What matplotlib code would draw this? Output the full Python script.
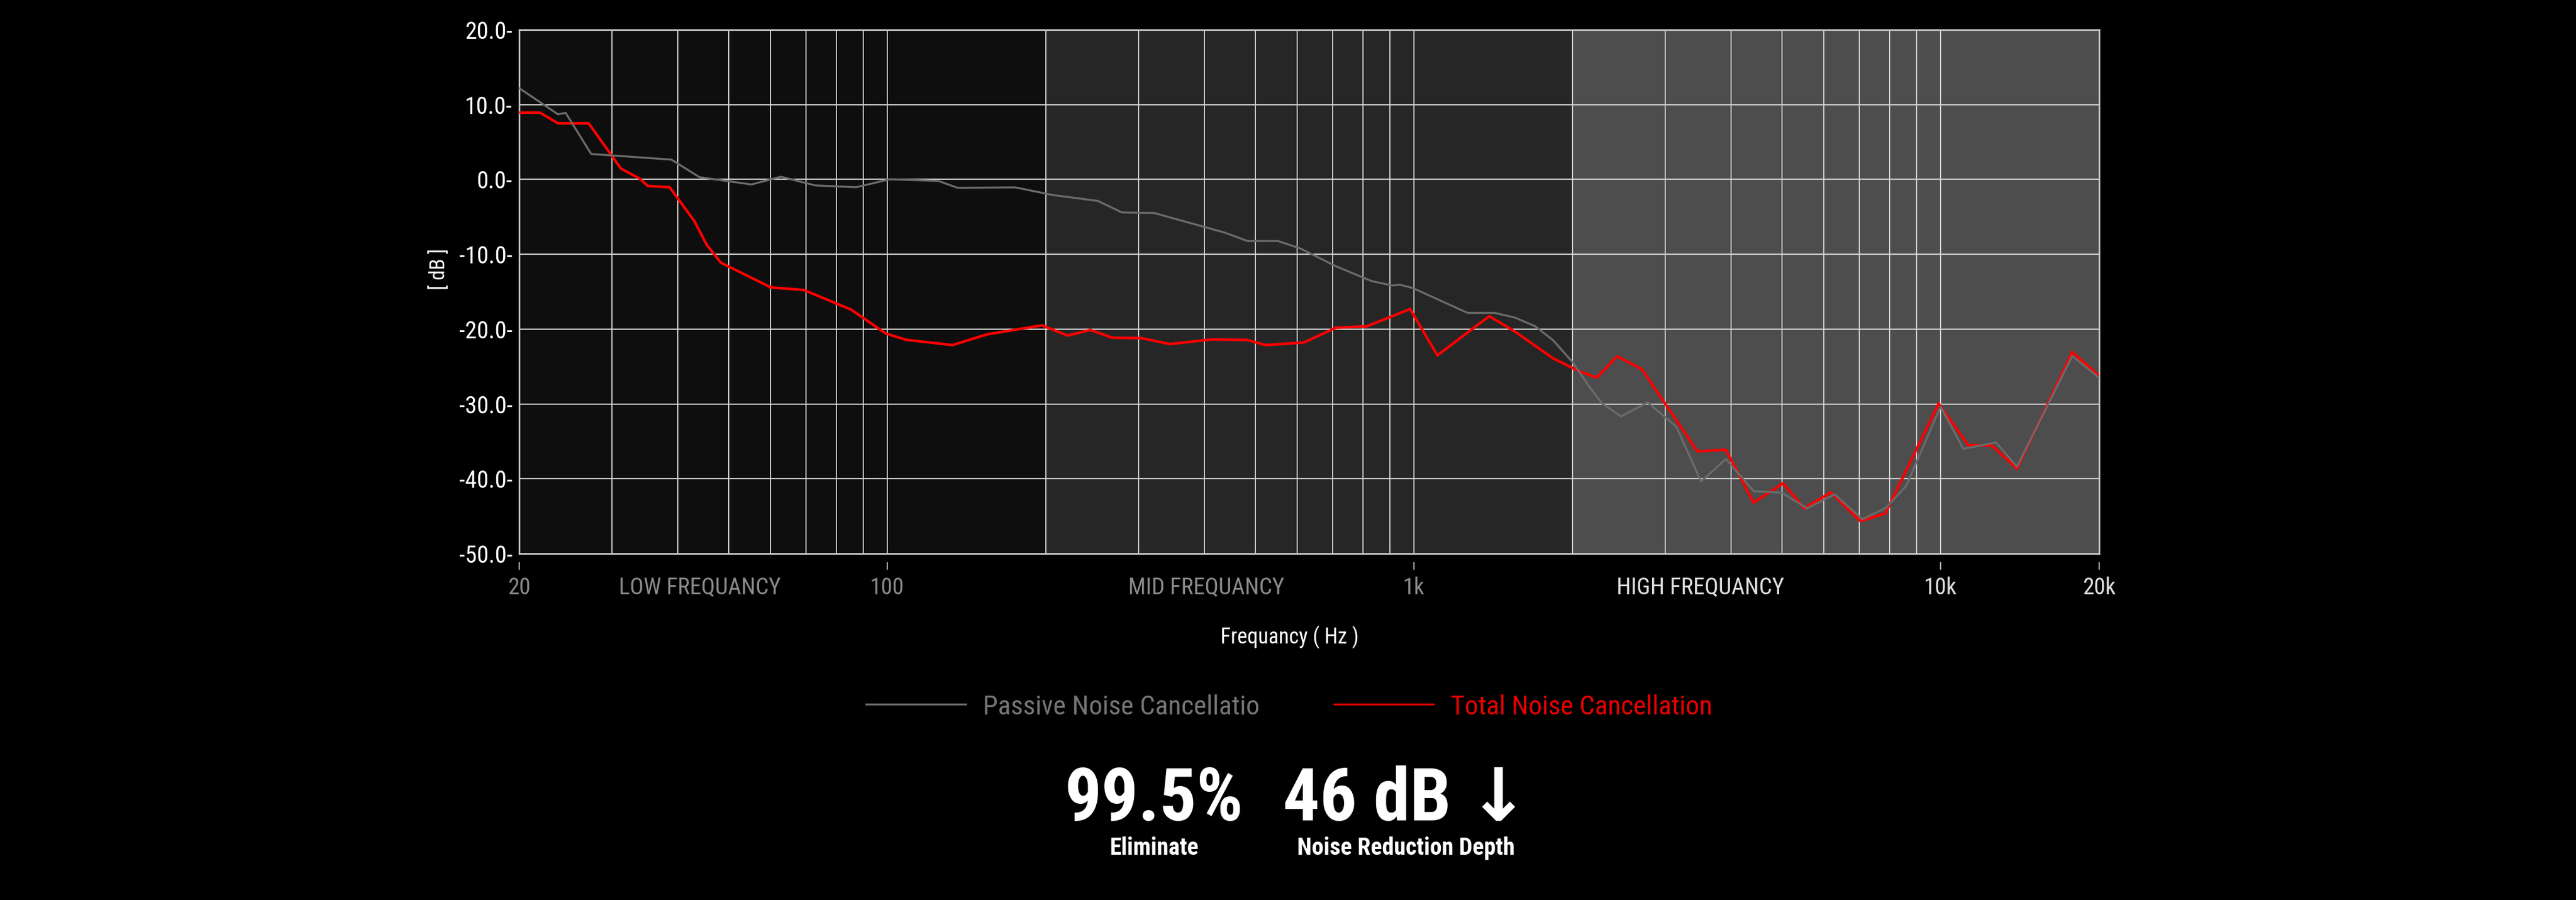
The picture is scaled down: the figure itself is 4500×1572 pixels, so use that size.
import matplotlib
matplotlib.use("Agg")
import matplotlib.pyplot as plt
from matplotlib import font_manager as fm
from matplotlib.lines import Line2D
from matplotlib.ticker import FixedLocator, NullLocator

# passive noise cancellation (grey curve)
passive_freq = [20, 23.7, 24.5, 27.4, 38.9, 44, 55.2, 62.8, 73, 87.3,
                101, 125, 136, 175, 206, 251, 279, 321, 437, 483,
                552, 608, 711, 832, 910, 940, 994, 1264, 1422, 1554,
                1700, 1838, 2000, 2151, 2274, 2473, 2778, 3148, 3508, 3910,
                4416, 5000, 5576, 6292, 7102, 7880, 8606, 10000, 11042, 12736,
                13962, 17784, 20000]
passive_db = [12.2, 8.7, 8.9, 3.4, 2.65, 0.3, -0.67, 0.36, -0.8, -1.04,
              0.02, -0.2, -1.12, -1.06, -2.08, -2.87, -4.41, -4.48, -7.1, -8.23,
              -8.23, -9.22, -11.6, -13.6, -14.17, -14.07, -14.5, -17.83, -17.83, -18.45,
              -19.63, -21.5, -24.4, -27.67, -29.89, -31.66, -29.78, -33.03, -40.35, -37.37,
              -41.64, -41.87, -43.94, -42.08, -45.4, -43.87, -40.93, -30.35, -36.0, -35.14,
              -38.38, -23.59, -26.52]

# total noise cancellation (red curve)
total_freq = [20, 21.9, 23.7, 27.1, 31.2, 33.8, 35.1, 38.6, 43.0, 45.4,
              48.3, 60.1, 69.4, 85.4, 99.3, 108.6, 133, 154.6, 196.6, 220,
              243, 267, 304, 344, 413, 483, 522, 618, 711, 813,
              910, 983, 1108, 1390, 1554, 1838, 2057, 2224, 2432, 2710,
              3452, 3910, 4416, 5024, 5508, 6188, 7044, 7853, 9916, 11282,
              12522, 13962, 17784, 20000]
total_db = [8.93, 8.93, 7.5, 7.5, 1.45, 0.15, -0.87, -1.04, -5.55, -8.73,
            -11.12, -14.43, -14.77, -17.4, -20.58, -21.43, -22.13, -20.7, -19.5, -20.86,
            -20.11, -21.14, -21.21, -22.0, -21.38, -21.45, -22.13, -21.79, -19.81, -19.63,
            -18.27, -17.31, -23.5, -18.27, -20.32, -23.91, -25.62, -26.47, -23.63, -25.37,
            -36.33, -36.13, -43.17, -40.6, -43.94, -41.82, -45.65, -44.63, -29.96, -35.5,
            -35.57, -38.63, -23.08, -26.26]

band_edges = [20, 200, 2000, 20000]
band_names = ["LOW FREQUANCY", "MID FREQUANCY", "HIGH FREQUANCY"]
band_label_freq = [44, 403, 3500]
grid_freqs = [30, 40, 50, 60, 70, 80, 90, 100,
              200, 300, 400, 500, 600, 700, 800, 900, 1000,
              2000, 3000, 4000, 5000, 6000, 7000, 8000, 9000, 10000]
xtick_freqs = [20, 100, 1000, 10000, 20000]
xtick_labels = ["20", "100", "1k", "10k", "20k"]
ytick_vals = [20, 10, 0, -10, -20, -30, -40, -50]

series_names = ["Passive Noise Cancellatio", "Total Noise Cancellation"]
stat_values = ["99.5%", "46 dB \u2193"]
stat_captions = ["Eliminate", "Noise Reduction Depth"]

band_colors = ["#0e0e0e", "#262626", "#4d4d4d"]
band_text_colors = ["#8a8a8a", "#8a8a8a", "#e0e0e0"]
xtick_colors = ["#8a8a8a", "#8a8a8a", "#8a8a8a", "#e0e0e0", "#e0e0e0"]
grey = "#6b6b6b"
red = "#ff0000"


def pick_family():
    names = {f.name for f in fm.fontManager.ttflist}
    for cand in ("Roboto Condensed", "Liberation Sans Narrow",
                 "DejaVu Sans Condensed", "Noto Sans Condensed"):
        if cand in names:
            return cand, "normal"
    for f in fm.fontManager.ttflist:
        if f.name in ("Roboto", "Noto Sans", "Open Sans", "DejaVu Sans") \
                and "condensed" in str(f.stretch):
            return f.name, "condensed"
    return "Roboto", "normal"


fam, stretch = pick_family()
narrow = fam != "Roboto" or stretch != "normal"
plt.rcParams["font.family"] = [fam, "DejaVu Sans"]
plt.rcParams["font.stretch"] = stretch

W, H = 4500, 1572
fig = plt.figure(figsize=(W / 100, H / 100), dpi=100, facecolor="black")


def fx(px):
    return px / W


def fy(py):
    return 1 - py / H


ax = fig.add_axes([fx(907), fy(967), fx(3667) - fx(907), fy(52) - fy(967)])
ax.set_xscale("log")
ax.set_xlim(20, 20000)
ax.set_ylim(-50, 20)
ax.set_facecolor(band_colors[0])

for i in range(3):
    ax.axvspan(band_edges[i], band_edges[i + 1], color=band_colors[i], lw=0, zorder=0)
for g in grid_freqs:
    ax.axvline(g, color="#d2d2d2", lw=1.4, zorder=1)
for v in ytick_vals:
    ax.axhline(v, color="#d2d2d2", lw=1.6, zorder=1)

ax.plot(total_freq, total_db, color=red, lw=3.3, zorder=3, solid_joinstyle="miter")
ax.plot(passive_freq, passive_db, color=grey, lw=2.5, zorder=4)

for sp in ax.spines.values():
    sp.set_color("#c8c8c8")
    sp.set_linewidth(2)

fs_tick = 28 if not narrow else 29
ax.xaxis.set_major_locator(FixedLocator(xtick_freqs))
ax.xaxis.set_minor_locator(NullLocator())
ax.set_xticklabels(xtick_labels)
ax.tick_params(axis="x", length=0, pad=29, labelsize=fs_tick)
for lab, c in zip(ax.get_xticklabels(), xtick_colors):
    lab.set_color(c)
ax.vlines(xtick_freqs, -0.031, -0.016, transform=ax.get_xaxis_transform(),
          colors="#b0b0b0", lw=1.6, clip_on=False)

for name, f, c in zip(band_names, band_label_freq, band_text_colors):
    ax.text(f, -40 / 915, name, transform=ax.get_xaxis_transform(),
            ha="center", va="top", color=c, fontsize=fs_tick)

ax.set_yticks(ytick_vals)
ax.set_yticklabels([f"{v:.1f}-" for v in ytick_vals])
ax.tick_params(axis="y", length=0, pad=8.5, labelsize=30, labelcolor="white")

fig.text(fx(767), fy(470), "[ dB ]", rotation=90, ha="center", va="center",
         color="white", fontsize=26)
fig.text(fx(2253), fy(1113), "Frequancy ( Hz )", ha="center", va="center",
         color="white", fontsize=27)

# legend
fs_leg = 31 if not narrow else 34
fig.add_artist(Line2D([fx(1513), fx(1687)], [fy(1230)] * 2, color=grey, lw=2.5,
                      transform=fig.transFigure))
fig.text(fx(1717), fy(1248), series_names[0], ha="left", va="baseline",
         color="#757575", fontsize=fs_leg)
fig.add_artist(Line2D([fx(2331), fx(2504)], [fy(1230)] * 2, color="#e00000", lw=2.5,
                      transform=fig.transFigure))
fig.text(fx(2534), fy(1248), series_names[1], ha="left", va="baseline",
         color="#e80000", fontsize=fs_leg)

# headline numbers
fs_big = 80 if not narrow else 92
fs_cap = 26 if not narrow else 30
for xc, val, cap in zip([2016, 2456], stat_values, stat_captions):
    fig.text(fx(xc), fy(1433), val, ha="center", va="baseline", color="white",
             fontsize=fs_big, fontweight="bold")
    fig.text(fx(xc), fy(1493), cap, ha="center", va="baseline", color="white",
             fontsize=fs_cap, fontweight="bold")

fig.savefig("out.png", dpi=100, facecolor="black")
